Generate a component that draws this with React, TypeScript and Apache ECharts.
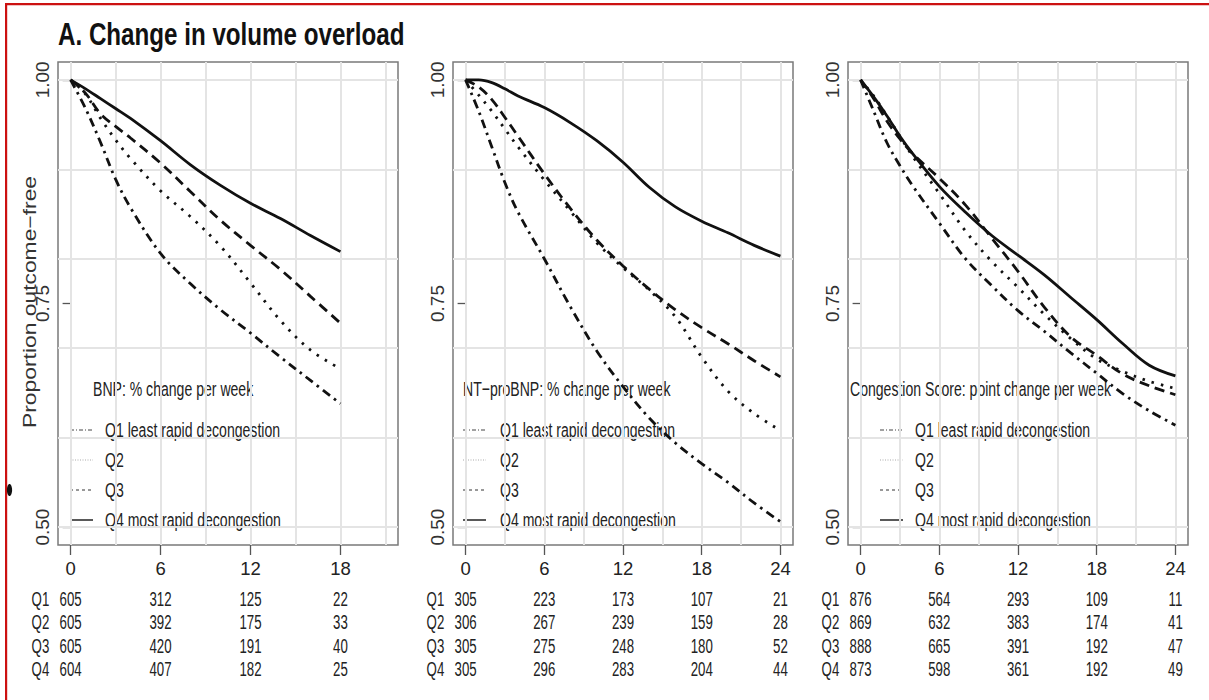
import React, { useEffect, useRef } from 'react';
import * as echarts from 'echarts';

// ---------- texts ----------
const TITLE = 'A. Change in volume overload';
const Y_TITLE = 'Proportion outcome−free';
const ROW_LABELS = ['Q1', 'Q2', 'Q3', 'Q4'];
const LEGEND_LABELS = ['Q1 least rapid decongestion', 'Q2', 'Q3', 'Q4 most rapid decongestion'];
const PANEL_TITLES = [
  'BNP: % change per week',
  'NT−proBNP: % change per week',
  'Congestion Score: point change per week',
];

// ---------- axes ----------
const Y_TICKS = [0.5, 0.75, 1.0];
const Y_GRID = [0.5, 0.6, 0.7, 0.8, 0.9, 1.0];
const X_TICKS_A = [0, 6, 12, 18];
const X_TICKS_B = [0, 6, 12, 18, 24];
const X_GRID_A = [0, 3, 6, 9, 12, 15, 18, 21];
const X_GRID_B = [0, 3, 6, 9, 12, 15, 18, 21, 24];
const X_LIMITS = [21, 24, 24];

// ---------- curves (weeks, proportion outcome-free) ----------
const T_BNP = [0, 1, 2, 3, 4, 6, 8, 10, 12, 14, 16, 18];
const BNP_Q1 = [1.0, 0.968, 0.93, 0.889, 0.857, 0.806, 0.772, 0.743, 0.717, 0.69, 0.664, 0.638];
const BNP_Q2 = [1.0, 0.984, 0.957, 0.933, 0.912, 0.876, 0.847, 0.814, 0.773, 0.731, 0.698, 0.677];
const BNP_Q3 = [1.0, 0.985, 0.962, 0.948, 0.935, 0.907, 0.875, 0.843, 0.815, 0.788, 0.758, 0.728];
const BNP_Q4 = [1.0, 0.99, 0.979, 0.968, 0.957, 0.932, 0.905, 0.882, 0.862, 0.845, 0.826, 0.808];

const T_NT = [0, 1, 2, 3, 4, 6, 8, 10, 12, 14, 16, 18, 20, 22, 24];
const NT_Q1 = [1.0, 0.965, 0.925, 0.885, 0.852, 0.8, 0.746, 0.697, 0.657, 0.622, 0.594, 0.571, 0.55, 0.527, 0.506];
const NT_Q2 = [1.0, 0.983, 0.965, 0.945, 0.925, 0.888, 0.853, 0.818, 0.79, 0.765, 0.735, 0.69, 0.652, 0.627, 0.608];
const NT_Q3 = [1.0, 0.992, 0.978, 0.958, 0.937, 0.895, 0.856, 0.821, 0.792, 0.766, 0.743, 0.723, 0.705, 0.686, 0.668];
const NT_Q4 = [1.0, 1.0, 0.997, 0.99, 0.982, 0.969, 0.952, 0.932, 0.908, 0.88, 0.858, 0.842, 0.829, 0.815, 0.803];

const T_CS = [0, 1, 2, 3, 4, 6, 8, 10, 12, 14, 16, 18, 20, 22, 24];
const CS_Q1 = [1.0, 0.965, 0.93, 0.904, 0.881, 0.84, 0.8, 0.77, 0.742, 0.719, 0.695, 0.672, 0.649, 0.63, 0.614];
const CS_Q2 = [1.0, 0.982, 0.96, 0.937, 0.914, 0.873, 0.831, 0.797, 0.768, 0.738, 0.711, 0.688, 0.674, 0.663, 0.655];
const CS_Q3 = [1.0, 0.979, 0.954, 0.934, 0.917, 0.89, 0.86, 0.823, 0.786, 0.746, 0.713, 0.692, 0.671, 0.658, 0.648];
const CS_Q4 = [1.0, 0.981, 0.96, 0.937, 0.917, 0.881, 0.852, 0.826, 0.804, 0.782, 0.757, 0.732, 0.705, 0.681, 0.669];

// ---------- numbers at risk ----------
const RISK_BNP_Q1 = [605, 312, 125, 22];
const RISK_BNP_Q2 = [605, 392, 175, 33];
const RISK_BNP_Q3 = [605, 420, 191, 40];
const RISK_BNP_Q4 = [604, 407, 182, 25];

const RISK_NT_Q1 = [305, 223, 173, 107, 21];
const RISK_NT_Q2 = [306, 267, 239, 159, 28];
const RISK_NT_Q3 = [305, 275, 248, 180, 52];
const RISK_NT_Q4 = [305, 296, 283, 204, 44];

const RISK_CS_Q1 = [876, 564, 293, 109, 11];
const RISK_CS_Q2 = [869, 632, 383, 174, 41];
const RISK_CS_Q3 = [888, 665, 391, 192, 47];
const RISK_CS_Q4 = [873, 598, 361, 192, 49];

// ---------- layout / style ----------
const GRID_LEFTS = [58, 453, 848];
const GRID_TOP = 62;
const GRID_W = 340;
const GRID_H = 483;
const LEGEND_TITLE_X = [93, 463, 850];
const LEGEND_SAMPLE_X = [70, 463, 880];
const LEGEND_TEXT_X = [105, 500, 915];
const LEGEND_TITLE_Y = 389;
const LEGEND_ROW_Y = [430, 460, 490, 520];
const TABLE_ROW_Y = [600, 623, 646.5, 670];
const INK = '#111';
const TEXT = '#222';
const SANS = '"Liberation Sans", Arial, Helvetica, sans-serif';
const NARROW = '"Liberation Sans Narrow", "Arial Narrow", "Liberation Sans", sans-serif';

const CURVE_DASH: any[] = [[9, 5, 2.5, 5], [2.5, 7], [10, 6], 'solid'];
const SAMPLE_DASH: any[] = [[4, 2, 1, 2], [1, 1.5], [3, 3], null];
const SAMPLE_COLOR = ['#444', '#aaa', '#333', '#222'];
const SAMPLE_WIDTH = [1, 1, 1, 1.5];

const PANELS = [
  { times: T_BNP, curves: [BNP_Q1, BNP_Q2, BNP_Q3, BNP_Q4], ticks: X_TICKS_A, xgrid: X_GRID_A, risk: [RISK_BNP_Q1, RISK_BNP_Q2, RISK_BNP_Q3, RISK_BNP_Q4] },
  { times: T_NT, curves: [NT_Q1, NT_Q2, NT_Q3, NT_Q4], ticks: X_TICKS_B, xgrid: X_GRID_B, risk: [RISK_NT_Q1, RISK_NT_Q2, RISK_NT_Q3, RISK_NT_Q4] },
  { times: T_CS, curves: [CS_Q1, CS_Q2, CS_Q3, CS_Q4], ticks: X_TICKS_B, xgrid: X_GRID_B, risk: [RISK_CS_Q1, RISK_CS_Q2, RISK_CS_Q3, RISK_CS_Q4] },
];

function buildOption(): any {
  const grid: any[] = [];
  const xAxis: any[] = [];
  const yAxis: any[] = [];
  const series: any[] = [];
  PANELS.forEach((p, i) => {
    const lim = X_LIMITS[i];
    grid.push({
      left: GRID_LEFTS[i], top: GRID_TOP, width: GRID_W, height: GRID_H,
      show: true, borderColor: '#7a7a7a', borderWidth: 1.5, backgroundColor: 'transparent',
    });
    xAxis.push({
      type: 'value', gridIndex: i, min: -0.04 * lim, max: lim * 1.04,
      axisLine: { show: false }, splitLine: { show: false },
      axisTick: { show: true, customValues: p.ticks, length: 10, lineStyle: { color: '#555', width: 1.3 } },
      axisLabel: {
        show: true, customValues: p.ticks, margin: 14,
        fontFamily: NARROW, fontSize: 18.5, color: TEXT,
        formatter: (v: number) => String(v),
      },
    });
    yAxis.push({
      type: 'value', gridIndex: i, min: 0.48, max: 1.02,
      axisLine: { show: false }, splitLine: { show: false },
      axisTick: { show: true, customValues: Y_TICKS, length: 8, lineStyle: { color: '#555', width: 1.3 } },
      axisLabel: {
        show: true, customValues: Y_TICKS, rotate: 90, margin: 6,
        fontFamily: SANS, fontSize: 19, color: '#333',
        formatter: (v: number) => v.toFixed(2),
      },
    });
    // background grid lines
    series.push({
      type: 'line', xAxisIndex: i, yAxisIndex: i, data: [], silent: true, z: 1,
      markLine: {
        silent: true, symbol: 'none', z: 1, label: { show: false },
        lineStyle: { color: '#e4e4e4', width: 2, type: 'solid' },
        data: [
          ...Y_GRID.map((v) => ({ yAxis: v })),
          ...p.xgrid.map((v) => ({ xAxis: v })),
        ],
      },
    });
    p.curves.forEach((vals, k) => {
      series.push({
        type: 'line', name: ROW_LABELS[k], xAxisIndex: i, yAxisIndex: i, z: 3,
        data: p.times.map((t, j) => [t, vals[j]]),
        smooth: 0.35, showSymbol: false, symbol: 'none', silent: true,
        lineStyle: { color: INK, width: 2.8, type: CURVE_DASH[k], cap: 'butt' },
      });
    });
  });
  return { animation: false, backgroundColor: '#fff', grid, xAxis, yAxis, series };
}

function buildGraphic(chart: any): any[] {
  const g: any[] = [];
  // frame of the figure (red border)
  g.push({ type: 'rect', shape: { x: 5, y: 3, width: 2.2, height: 697 }, style: { fill: '#cc1111' }, silent: true });
  g.push({ type: 'rect', shape: { x: 5, y: 3, width: 1204, height: 2.2 }, style: { fill: '#cc1111' }, silent: true });
  g.push({ type: 'ellipse', shape: { cx: 9.5, cy: 490, rx: 2.6, ry: 6 }, style: { fill: '#111' }, silent: true });
  // title
  g.push({
    type: 'text', x: 58, y: 34, scaleX: 0.78, silent: true,
    style: { text: TITLE, fontFamily: SANS, fontWeight: 'bold', fontSize: 31, fill: INK, textAlign: 'left', textVerticalAlign: 'middle' },
  });
  // y title
  g.push({
    type: 'text', x: 29, y: 302, rotation: Math.PI / 2, scaleX: 1.27, silent: true,
    style: { text: Y_TITLE, fontFamily: SANS, fontSize: 18, fill: '#333', textAlign: 'center', textVerticalAlign: 'middle' },
  });
  PANELS.forEach((p, i) => {
    // legend
    g.push({
      type: 'text', x: LEGEND_TITLE_X[i], y: LEGEND_TITLE_Y, scaleX: 0.67, silent: true,
      style: { text: PANEL_TITLES[i], fontFamily: SANS, fontSize: 21, fill: TEXT, textAlign: 'left', textVerticalAlign: 'middle' },
    });
    LEGEND_LABELS.forEach((lab, k) => {
      const y = LEGEND_ROW_Y[k];
      g.push({
        type: 'line', silent: true,
        shape: { x1: LEGEND_SAMPLE_X[i], y1: y, x2: LEGEND_SAMPLE_X[i] + 23, y2: y },
        style: { stroke: SAMPLE_COLOR[k], lineWidth: SAMPLE_WIDTH[k], lineDash: SAMPLE_DASH[k] },
      });
      g.push({
        type: 'text', x: LEGEND_TEXT_X[i], y, scaleX: 0.67, silent: true,
        style: { text: lab, fontFamily: SANS, fontSize: 21, fill: TEXT, textAlign: 'left', textVerticalAlign: 'middle' },
      });
    });
    // numbers at risk table
    const x0 = chart.convertToPixel({ xAxisIndex: i }, p.ticks[0]);
    ROW_LABELS.forEach((rl, r) => {
      g.push({
        type: 'text', x: x0 - 39, y: TABLE_ROW_Y[r], scaleX: 0.68, silent: true,
        style: { text: rl, fontFamily: SANS, fontSize: 19.5, fill: TEXT, textAlign: 'left', textVerticalAlign: 'middle' },
      });
      p.ticks.forEach((t, j) => {
        const x = chart.convertToPixel({ xAxisIndex: i }, t);
        g.push({
          type: 'text', x, y: TABLE_ROW_Y[r], scaleX: 0.68, silent: true,
          style: { text: String(p.risk[r][j]), fontFamily: SANS, fontSize: 19.5, fill: TEXT, textAlign: 'center', textVerticalAlign: 'middle' },
        });
      });
    });
  });
  return g;
}

export default function App() {
  const ref = useRef<HTMLDivElement>(null);
  useEffect(() => {
    if (!ref.current) return;
    const chart = echarts.init(ref.current, null, { renderer: 'svg' });
    chart.setOption(buildOption());
    chart.setOption({ graphic: { elements: buildGraphic(chart) } });
    return () => chart.dispose();
  }, []);
  return (
    <div
      ref={ref}
      style={{ position: 'fixed', left: 0, top: 0, width: 1209, height: 700, background: '#fff' }}
    />
  );
}
